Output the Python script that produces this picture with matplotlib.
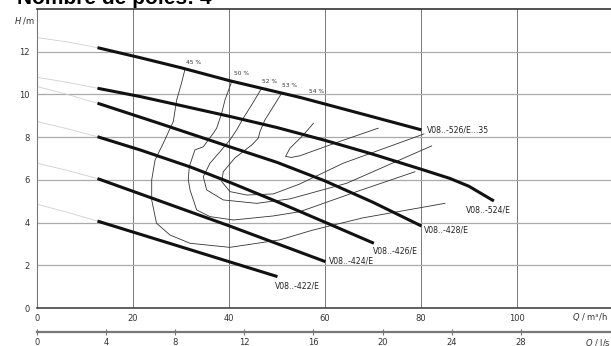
import matplotlib
matplotlib.use("Agg")
import matplotlib.pyplot as plt

# pump curves (Q in m3/h, H in m)
curve_names = ["V08..-526/E...35", "V08..-524/E", "V08..-428/E",
               "V08..-426/E", "V08..-424/E", "V08..-422/E"]
curve_q = [
    [12.6, 21.5, 30.0, 40.0, 55.0, 70.0, 80.1],
    [12.6, 21.5, 30.0, 40.0, 50.0, 60.0, 70.0, 80.0, 86.0, 90.0, 95.2],
    [12.6, 25.0, 40.0, 50.0, 60.0, 70.0, 80.1],
    [12.6, 21.5, 32.0, 40.0, 50.0, 61.0, 70.2],
    [12.6, 26.0, 40.0, 60.1],
    [12.6, 40.0, 50.1],
]
curve_h = [
    [12.19, 11.72, 11.25, 10.65, 9.85, 8.95, 8.34],
    [10.29, 9.90, 9.48, 8.98, 8.45, 7.85, 7.20, 6.50, 6.07, 5.70, 5.01],
    [9.59, 8.68, 7.56, 6.82, 5.95, 4.95, 3.84],
    [8.02, 7.40, 6.60, 5.90, 4.98, 3.92, 3.03],
    [6.06, 4.98, 3.85, 2.17],
    [4.07, 2.17, 1.47],
]
# faint extensions towards Q = 0
ext_q = [0.0, 6.0, 12.6]
ext_h = [
    [12.66, 12.47, 12.19],
    [10.80, 10.58, 10.29],
    [10.37, 10.02, 9.59],
    [8.73, 8.41, 8.02],
    [6.78, 6.46, 6.06],
    [4.86, 4.50, 4.07],
]
label_q = [81.2, 89.4, 80.6, 70.0, 60.8, 49.6]
label_h = [8.34, 4.59, 3.65, 2.68, 2.20, 1.04]

# efficiency iso-lines
eff_names = ["45 %", "50 %", "52 %", "53 %", "54 %"]
eff_q = [
    [30.8, 30.1, 29.1, 28.4, 26.3, 24.6, 23.9, 23.9, 24.9, 27.7, 31.9, 40.2,
     50.6, 57.5, 67.9, 85.0],
    [40.56, 39.17, 38.48, 37.44, 36.73, 34.65, 32.9, 31.73, 31.52, 31.88,
     33.27, 36.04, 40.9, 49.23, 54.79, 66.6, 78.75],
    [46.81, 44.73, 42.98, 41.6, 40.21, 38.1, 36.04, 34.65, 35.35, 38.81,
     45.77, 52.71, 64.52, 82.23],
    [50.98, 49.23, 47.5, 46.46, 46.1, 44.73, 41.25, 38.81, 38.48, 40.21,
     43.69, 49.23, 54.79, 63.81, 80.63],
    [57.6, 55.5, 52.7, 51.8, 53.0, 54.8, 63.1, 71.1],
]
eff_h = [
    [11.15, 10.52, 9.74, 8.73, 7.71, 6.93, 6.0, 5.06, 3.97, 3.42, 3.03, 2.84,
     3.19, 3.65, 4.22, 4.90],
    [10.6, 9.74, 9.12, 8.42, 8.18, 7.55, 7.4, 6.62, 6.0, 5.53,
     4.59, 4.28, 4.12, 4.31, 4.51, 5.45, 6.38],
    [10.29, 9.51, 8.89, 8.34, 7.87, 7.31, 6.78, 6.15, 5.53, 5.06,
     4.90, 5.11, 5.84, 7.59],
    [10.06, 9.43, 8.81, 8.26, 7.95, 7.63, 7.03, 6.38, 5.92, 5.45,
     5.29, 5.34, 5.81, 6.78, 8.15],
    [8.65, 8.10, 7.48, 7.10, 7.05, 7.13, 7.80, 8.42],
]
eff_label_q = [32.7, 42.6, 48.5, 52.7, 58.3]
eff_label_h = [11.49, 10.96, 10.6, 10.4, 10.13]

q_ticks = [0, 20, 40, 60, 80, 100]
h_ticks = [0, 2, 4, 6, 8, 10, 12]
ls_ticks = [0, 4, 8, 12, 16, 20, 24, 28]

W, H = 611, 346
x_max = 119.6

fig = plt.figure(figsize=(W / 100, H / 100), dpi=100)
ax = fig.add_axes([37 / W, 1 - 308 / H, (W - 37) / W, 299 / H])
ax.set_xlim(0, x_max)
ax.set_ylim(0, 14)

for v in q_ticks[1:]:
    ax.axvline(v, color="#777777", lw=0.7, zorder=1)
for v in h_ticks[1:]:
    ax.axhline(v, color="#aaaaaa", lw=0.9, zorder=1)

for eh in ext_h:
    ax.plot(ext_q, eh, color="#cfcfcf", lw=0.6, zorder=2)

for q, h in zip(eff_q, eff_h):
    ax.plot(q, h, color="#333333", lw=0.6, zorder=3)
for name, q, h in zip(eff_names, eff_label_q, eff_label_h):
    ax.text(q, h, name, fontsize=4.2, color="#333333", ha="center", va="center")

for name, q, h, lq, lh in zip(curve_names, curve_q, curve_h, label_q, label_h):
    ax.plot(q, h, color="#111111", lw=2.2, solid_capstyle="butt",
            solid_joinstyle="round", zorder=4)
    ax.text(lq, lh, name, fontsize=5.6, color="#222222", ha="left", va="center")

ax.set_xticks(q_ticks)
ax.set_yticks(h_ticks)
ax.tick_params(length=0, labelsize=6, colors="#333333", pad=4)
ax.tick_params(axis="y", pad=5)
ax.spines["right"].set_visible(False)
ax.spines["top"].set_color("#333333")
ax.spines["top"].set_linewidth(1.2)
ax.spines["bottom"].set_color("#444444")
ax.spines["bottom"].set_linewidth(1.2)
ax.spines["left"].set_color("#777777")
ax.spines["left"].set_linewidth(0.8)

ax.text(-0.3, 14.0 - 0.55, r"$H$ /m", fontsize=6, color="#333333",
        ha="right", va="center")
fig.text(590 / W, 1 - 317 / H, r"$Q$ / m³/h", fontsize=6, color="#333333",
         ha="center", va="center")

# second flow axis in l/s
ax2 = fig.add_axes([37 / W, 1 - 332 / H, (W - 37) / W, 0.0001])
ax2.set_xlim(0, x_max / 3.6)
ax2.set_yticks([])
for s in ["top", "left", "right"]:
    ax2.spines[s].set_visible(False)
ax2.spines["bottom"].set_color("#777777")
ax2.spines["bottom"].set_linewidth(1.6)
ax2.set_xticks(ls_ticks)
ax2.tick_params(axis="x", direction="inout", length=4, width=0.8,
                color="#777777", labelsize=6, labelcolor="#333333", pad=2)
fig.text(598 / W, 1 - 343 / H, r"$Q$ / l/s", fontsize=6, color="#333333",
         ha="center", va="center")

fig.text(17 / W, 1 - 4 / H, "Nombre de pôles: 4", fontsize=15,
         fontweight="bold", family="Liberation Sans", va="baseline")

fig.savefig("out.png", dpi=100)
